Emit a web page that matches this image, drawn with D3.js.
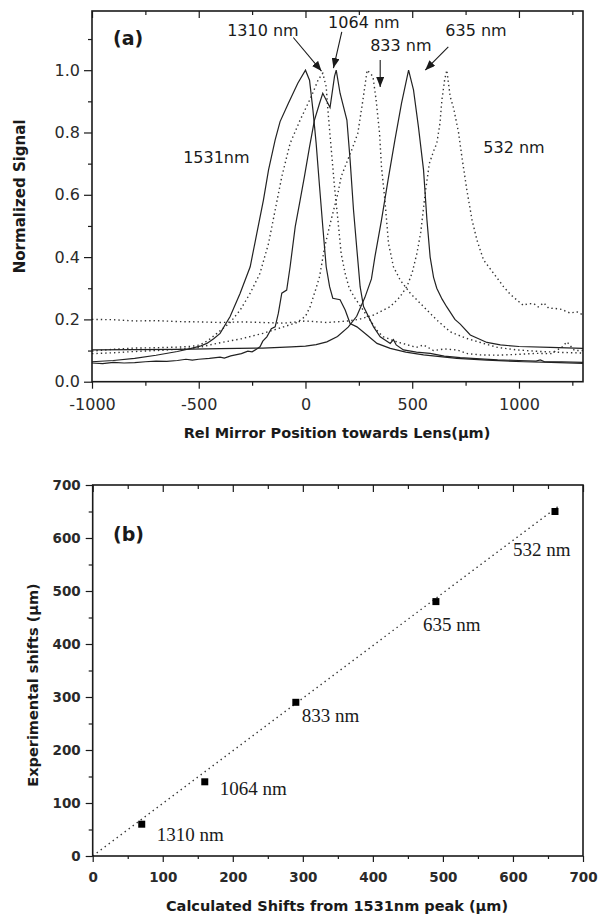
<!DOCTYPE html>
<html>
<head>
<meta charset="utf-8">
<script src="https://cdn.jsdelivr.net/npm/d3@7"></script>
<style>
  body { margin: 0; background: #fff; }
  svg { display: block; }
</style>
</head>
<body>
<div id="chart"></div>
<script>
// ---- data: panel (a), [mirror position um, normalized signal] ----
const curve1531 = [[-1000,0.064],[-900,0.068],[-800,0.075],[-700,0.085],[-600,0.097],[-530,0.108],[-494,0.114],[-462,0.123],[-430,0.138],[-400,0.155],[-353,0.209],[-306,0.284],[-259,0.369],[-228,0.476],[-197,0.583],[-173,0.68],[-142,0.776],[-119,0.835],[-80,0.894],[-36,0.958],[0,1.0],[19,0.968],[35,0.872],[50,0.765],[66,0.626],[81,0.498],[97,0.369],[113,0.305],[128,0.268],[162,0.263],[186,0.23],[209,0.187],[241,0.176],[288,0.15],[335,0.123],[397,0.107],[470,0.095],[553,0.086],[709,0.075],[850,0.069],[1022,0.064],[1150,0.062],[1300,0.059]];
const curve1064 = [[-1000,0.060],[-950,0.058],[-900,0.062],[-850,0.060],[-800,0.061],[-750,0.064],[-700,0.066],[-650,0.065],[-600,0.068],[-560,0.072],[-530,0.069],[-500,0.072],[-450,0.075],[-400,0.079],[-380,0.076],[-350,0.083],[-300,0.09],[-270,0.098],[-250,0.096],[-230,0.104],[-213,0.112],[-200,0.13],[-181,0.144],[-160,0.17],[-142,0.176],[-127,0.22],[-111,0.284],[-88,0.294],[-72,0.369],[-48,0.498],[-25,0.583],[-5,0.658],[19,0.754],[42,0.84],[66,0.894],[81,0.926],[100,0.90],[115,0.88],[136,0.98],[144,1.0],[162,0.926],[194,0.84],[209,0.712],[225,0.551],[241,0.423],[256,0.305],[272,0.241],[295,0.209],[319,0.176],[350,0.144],[397,0.123],[412,0.135],[425,0.118],[459,0.102],[520,0.095],[584,0.091],[650,0.082],[725,0.077],[800,0.074],[900,0.07],[1000,0.068],[1080,0.066],[1100,0.07],[1120,0.064],[1200,0.064],[1300,0.062]];
const curve635 = [[-1000,0.102],[-800,0.103],[-600,0.104],[-400,0.106],[-200,0.108],[-66,0.112],[0,0.114],[50,0.119],[100,0.128],[150,0.145],[200,0.175],[240,0.21],[278,0.27],[309,0.33],[325,0.40],[356,0.519],[387,0.648],[419,0.776],[450,0.894],[483,1.0],[506,0.937],[529,0.819],[553,0.68],[569,0.519],[584,0.40],[600,0.335],[615,0.30],[640,0.265],[662,0.24],[700,0.20],[725,0.185],[772,0.15],[850,0.126],[913,0.118],[1000,0.113],[1147,0.11],[1300,0.107]];
const curve1310 = [[-1000,0.098],[-900,0.104],[-800,0.108],[-700,0.109],[-600,0.111],[-540,0.113],[-494,0.118],[-455,0.133],[-415,0.155],[-353,0.19],[-306,0.23],[-259,0.284],[-213,0.348],[-173,0.444],[-142,0.551],[-111,0.658],[-72,0.765],[-25,0.84],[27,0.915],[60,0.97],[81,0.99],[97,0.947],[105,0.872],[117,0.776],[136,0.626],[152,0.519],[167,0.412],[185,0.35],[205,0.30],[230,0.27],[260,0.24],[300,0.20],[340,0.16],[366,0.144],[400,0.135],[428,0.128],[470,0.12],[520,0.11],[553,0.118],[600,0.10],[650,0.105],[709,0.102],[760,0.09],[819,0.086],[900,0.085],[1000,0.088],[1084,0.091],[1150,0.09],[1200,0.11],[1225,0.128],[1260,0.1],[1300,0.1]];
const curve833 = [[-1000,0.09],[-900,0.093],[-800,0.097],[-700,0.10],[-600,0.104],[-500,0.11],[-415,0.123],[-300,0.138],[-200,0.155],[-103,0.176],[-40,0.19],[0,0.21],[22,0.241],[45,0.29],[66,0.337],[90,0.433],[120,0.519],[152,0.605],[167,0.658],[198,0.712],[220,0.75],[245,0.797],[269,0.904],[289,1.0],[316,0.98],[331,0.904],[347,0.797],[356,0.69],[372,0.583],[389,0.444],[412,0.369],[444,0.326],[491,0.284],[553,0.241],[615,0.198],[678,0.16],[750,0.14],[833,0.123],[900,0.11],[991,0.102],[1100,0.097],[1200,0.094],[1300,0.092]];
const curve532 = [[-1000,0.20],[-900,0.199],[-800,0.195],[-700,0.196],[-600,0.193],[-500,0.192],[-400,0.19],[-300,0.192],[-200,0.19],[-100,0.188],[0,0.195],[100,0.19],[200,0.195],[250,0.2],[319,0.214],[397,0.241],[440,0.27],[475,0.305],[500,0.35],[522,0.412],[540,0.48],[560,0.60],[580,0.70],[600,0.74],[615,0.765],[630,0.83],[639,0.904],[652,0.97],[662,1.0],[678,0.915],[694,0.878],[717,0.80],[733,0.72],[756,0.615],[780,0.52],[803,0.455],[834,0.391],[881,0.348],[928,0.305],[960,0.28],[991,0.262],[1020,0.245],[1040,0.25],[1069,0.251],[1090,0.24],[1116,0.253],[1140,0.235],[1162,0.236],[1200,0.232],[1241,0.22],[1270,0.225],[1300,0.214]];

const xTicksA = [-1000, -500, 0, 500, 1000];
const xMinorA = [-750, -250, 250, 750, 1250];
const yTicksA = [0, 0.2, 0.4, 0.6, 0.8, 1.0];
const yMinorA = [0.1, 0.3, 0.5, 0.7, 0.9, 1.1];

// ---- data: panel (b) ----
const wavelengths = ["1310 nm", "1064 nm", "833 nm", "635 nm", "532 nm"];
const calcShift = [70, 160, 290, 490, 660];
const expShift = [60, 140, 290, 480, 650];
const fitLine = [[0, 0], [665, 660]];
const ticksB = [0, 100, 200, 300, 400, 500, 600, 700];
const minorB = [50, 150, 250, 350, 450, 550, 650];

const width = 598, height = 917;
const svg = d3.select("#chart").append("svg")
    .attr("width", width)
    .attr("height", height);

const ink = "#1a1a1a";
const sans = "DejaVu Sans, sans-serif";

// ================= panel (a) =================
const xA = d3.scaleLinear().domain([-1000, 1300]).range([92, 583]);
const yA = d3.scaleLinear().domain([0, 1.19]).range([381.7, 11]);

const gA = svg.append("g");

const lineA = d3.line().x(d => xA(d[0])).y(d => yA(d[1]));

const curves = [
    { data: curve532, dotted: true },
    { data: curve833, dotted: true },
    { data: curve1310, dotted: true },
    { data: curve635, dotted: false },
    { data: curve1064, dotted: false },
    { data: curve1531, dotted: false }
];

gA.append("g").selectAll("path")
    .data(curves)
    .join("path")
    .attr("d", d => lineA(d.data))
    .attr("fill", "none")
    .attr("stroke", d => d.dotted ? "#333" : "#222")
    .attr("stroke-width", d => d.dotted ? 1.4 : 1.2)
    .attr("stroke-dasharray", d => d.dotted ? "1.4,3" : null);

// axes
function styleAxis(g, font, size, weight) {
    g.select(".domain").remove();
    g.selectAll("line").attr("stroke", ink).attr("stroke-width", 1.2);
    g.selectAll("text").attr("fill", "#2a2a2a")
        .style("font-family", font).style("font-size", size + "px")
        .style("font-weight", weight);
}

gA.append("g").attr("transform", `translate(0,${yA(0)})`)
    .call(d3.axisBottom(xA).tickValues(xTicksA).tickSize(7).tickPadding(10).tickFormat(d => String(d)))
    .call(g => styleAxis(g, sans, 16, "normal"));
gA.append("g").attr("transform", `translate(0,${yA(0)})`)
    .call(d3.axisBottom(xA).tickValues(xMinorA).tickSize(4).tickFormat(""))
    .call(g => styleAxis(g, sans, 16, "normal"));
gA.append("g").attr("transform", `translate(0,${yA(1.19)})`)
    .call(d3.axisBottom(xA).tickValues(xTicksA).tickSize(7).tickFormat(""))
    .call(g => styleAxis(g, sans, 16, "normal"));
gA.append("g").attr("transform", `translate(0,${yA(1.19)})`)
    .call(d3.axisBottom(xA).tickValues(xMinorA).tickSize(4).tickFormat(""))
    .call(g => styleAxis(g, sans, 16, "normal"));
gA.append("g").attr("transform", `translate(${xA(-1000)},0)`)
    .call(d3.axisLeft(yA).tickValues(yTicksA).tickSize(8).tickPadding(4).tickFormat(d3.format(".1f")))
    .call(g => styleAxis(g, sans, 16, "normal"));
gA.append("g").attr("transform", `translate(${xA(-1000)},0)`)
    .call(d3.axisLeft(yA).tickValues(yMinorA).tickSize(4).tickFormat(""))
    .call(g => styleAxis(g, sans, 16, "normal"));

gA.append("rect")
    .attr("x", xA(-1000)).attr("y", yA(1.19))
    .attr("width", xA(1300) - xA(-1000)).attr("height", yA(0) - yA(1.19))
    .attr("fill", "none").attr("stroke", ink).attr("stroke-width", 1.6);

gA.append("text")
    .attr("transform", `translate(25,${(yA(0) + yA(1.19)) / 2}) rotate(-90)`)
    .attr("text-anchor", "middle")
    .style("font-family", sans).style("font-size", "15px").style("font-weight", "bold")
    .attr("fill", ink)
    .text("Normalized Signal");

gA.append("text")
    .attr("x", 337).attr("y", 438)
    .attr("text-anchor", "middle")
    .style("font-family", sans).style("font-size", "14.5px").style("font-weight", "bold")
    .attr("fill", ink)
    .text("Rel Mirror Position towards Lens(\u00b5m)");

gA.append("text")
    .attr("x", 113).attr("y", 45)
    .style("font-family", sans).style("font-size", "19px").style("font-weight", "bold")
    .attr("fill", ink)
    .text("(a)");

// peak labels
const peakLabels = [
    { t: "1310 nm", x: -367, y: 1.11 },
    { t: "1064 nm", x: 106, y: 1.135 },
    { t: "833 nm", x: 303, y: 1.062 },
    { t: "635 nm", x: 655, y: 1.11 },
    { t: "532 nm", x: 833, y: 0.734 },
    { t: "1531nm", x: -573, y: 0.702 }
];
gA.append("g").selectAll("text")
    .data(peakLabels)
    .join("text")
    .attr("x", d => xA(d.x)).attr("y", d => yA(d.y))
    .style("font-family", sans).style("font-size", "16px")
    .attr("fill", ink)
    .text(d => d.t);

svg.append("defs").append("marker")
    .attr("id", "arrow")
    .attr("markerUnits", "userSpaceOnUse")
    .attr("viewBox", "0 0 10 8")
    .attr("refX", 10).attr("refY", 4)
    .attr("markerWidth", 10).attr("markerHeight", 8)
    .attr("orient", "auto")
    .append("path")
    .attr("d", "M0,0 L10,4 L0,8 Z")
    .attr("fill", ink);

const arrows = [
    [[-57, 1.105], [75, 0.997]],
    [[170, 1.123], [131, 1.007]],
    [[350, 1.033], [350, 0.946]],
    [[669, 1.075], [561, 1.0]]
];
gA.append("g").selectAll("line")
    .data(arrows)
    .join("line")
    .attr("x1", d => xA(d[0][0])).attr("y1", d => yA(d[0][1]))
    .attr("x2", d => xA(d[1][0])).attr("y2", d => yA(d[1][1]))
    .attr("stroke", ink).attr("stroke-width", 1.1)
    .attr("marker-end", "url(#arrow)");

// ================= panel (b) =================
const xB = d3.scaleLinear().domain([0, 700]).range([92.7, 583]);
const yB = d3.scaleLinear().domain([0, 700]).range([856, 485]);
const gB = svg.append("g");

gB.append("path")
    .attr("d", d3.line().x(d => xB(d[0])).y(d => yB(d[1]))(fitLine))
    .attr("fill", "none").attr("stroke", "#333")
    .attr("stroke-width", 1.4).attr("stroke-dasharray", "1.4,3.6");

const points = calcShift.map((c, i) => ({ c: c, e: expShift[i], label: wavelengths[i] }));
gB.append("g").selectAll("rect")
    .data(points)
    .join("rect")
    .attr("x", d => xB(d.c) - 3.5).attr("y", d => yB(d.e) - 3.5)
    .attr("width", 7).attr("height", 7)
    .attr("fill", "#000");

const labelOffset = [[15, 17], [15, 13], [6, 20], [-13, 29], [-42, 44]];
gB.append("g").selectAll("text")
    .data(points)
    .join("text")
    .attr("x", (d, i) => xB(d.c) + labelOffset[i][0])
    .attr("y", (d, i) => yB(d.e) + labelOffset[i][1])
    .style("font-family", "Liberation Serif, Times New Roman, serif")
    .style("font-size", "19px")
    .attr("fill", ink)
    .text(d => d.label);

gB.append("g").attr("transform", `translate(0,${yB(0)})`)
    .call(d3.axisBottom(xB).tickValues(ticksB).tickSize(6).tickPadding(10))
    .call(g => styleAxis(g, sans, 13.5, "bold"));
gB.append("g").attr("transform", `translate(0,${yB(0)})`)
    .call(d3.axisBottom(xB).tickValues(minorB).tickSize(3).tickFormat(""))
    .call(g => styleAxis(g, sans, 13.5, "bold"));
gB.append("g").attr("transform", `translate(0,${yB(700)})`)
    .call(d3.axisBottom(xB).tickValues(ticksB).tickSize(7).tickFormat(""))
    .call(g => styleAxis(g, sans, 13.5, "bold"));
gB.append("g").attr("transform", `translate(0,${yB(700)})`)
    .call(d3.axisBottom(xB).tickValues(minorB).tickSize(4).tickFormat(""))
    .call(g => styleAxis(g, sans, 13.5, "bold"));
gB.append("g").attr("transform", `translate(${xB(0)},0)`)
    .call(d3.axisLeft(yB).tickValues(ticksB).tickSize(7).tickPadding(5))
    .call(g => styleAxis(g, sans, 13.5, "bold"));
gB.append("g").attr("transform", `translate(${xB(0)},0)`)
    .call(d3.axisLeft(yB).tickValues(minorB).tickSize(4).tickFormat(""))
    .call(g => styleAxis(g, sans, 13.5, "bold"));

gB.append("rect")
    .attr("x", xB(0)).attr("y", yB(700))
    .attr("width", xB(700) - xB(0)).attr("height", yB(0) - yB(700))
    .attr("fill", "none").attr("stroke", ink).attr("stroke-width", 1.6);

gB.append("text")
    .attr("transform", `translate(38,${685}) rotate(-90)`)
    .attr("text-anchor", "middle")
    .style("font-family", sans).style("font-size", "14.5px").style("font-weight", "bold")
    .attr("fill", ink)
    .text("Experimental shifts (\u00b5m)");

gB.append("text")
    .attr("x", 337).attr("y", 911)
    .attr("text-anchor", "middle")
    .style("font-family", sans).style("font-size", "14.5px").style("font-weight", "bold")
    .attr("fill", ink)
    .text("Calculated Shifts from 1531nm peak (\u00b5m)");

gB.append("text")
    .attr("x", 113).attr("y", 541)
    .style("font-family", sans).style("font-size", "19px").style("font-weight", "bold")
    .attr("fill", ink)
    .text("(b)");
</script>
</body>
</html>
